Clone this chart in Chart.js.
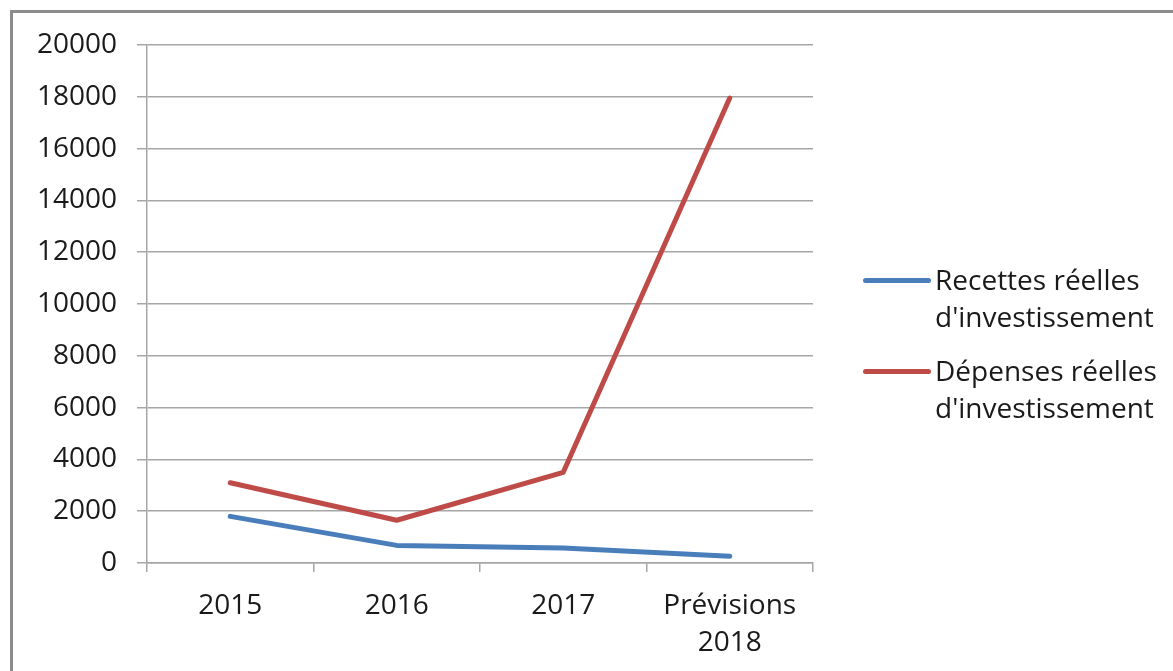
<!DOCTYPE html>
<html>
<head>
<meta charset="utf-8">
<script src="https://cdn.jsdelivr.net/npm/chart.js@4"></script>
<style>
  html, body { margin: 0; padding: 0; background: #fff; }
  #wrap { position: relative; width: 1173px; height: 671px; overflow: hidden; }
  #frame { position: absolute; left: 10px; top: 10px; width: 1200px; height: 700px;
           border-left: 3px solid #8c8c8c; border-top: 3px solid #8c8c8c; box-sizing: border-box; }
  #c { position: absolute; left: 0; top: 0; }
  .leg { position: absolute; left: 863px; font-family: "Open Sans", sans-serif; font-size: 28px;
         color: #1a1a1a; line-height: 37px; }
  .leg .sw { position: absolute; left: 0; width: 68px; height: 5px; border-radius: 3px; }
  .leg .tx { position: absolute; left: 72px; white-space: nowrap; }
</style>
</head>
<body>
<div id="wrap">
  <div id="frame"></div>
  <canvas id="c" width="1173" height="671"></canvas>
  <div class="leg" id="leg"></div>
</div>
<script>
const categories = ["2015", "2016", "2017", ["Prévisions", "2018"]];
const recettes = [1800, 680, 580, 260];
const depenses = [3100, 1650, 3500, 17950];
const seriesNames = [["Recettes réelles", "d'investissement"], ["Dépenses réelles", "d'investissement"]];
const seriesColors = ["#4a7ebb", "#be4b48"];
const yTicks = { min: 0, max: 20000, step: 2000 };

const ctx = document.getElementById('c');
new Chart(ctx, {
  type: 'line',
  data: {
    labels: categories,
    datasets: [
      { label: seriesNames[0].join(' '), data: recettes, borderColor: seriesColors[0], borderWidth: 5,
        pointRadius: 0, tension: 0, fill: false, borderCapStyle: 'round', borderJoinStyle: 'round' },
      { label: seriesNames[1].join(' '), data: depenses, borderColor: seriesColors[1], borderWidth: 5,
        pointRadius: 0, tension: 0, fill: false, borderCapStyle: 'round', borderJoinStyle: 'round' }
    ]
  },
  options: {
    responsive: false,
    animation: false,
    layout: { padding: { left: 0, top: 45, right: 360, bottom: 0 } },
    plugins: { legend: { display: false }, tooltip: { enabled: false } },
    scales: {
      y: {
        min: yTicks.min, max: yTicks.max,
        ticks: { stepSize: yTicks.step, padding: 20, color: '#1a1a1a',
                 callback: v => String(v),
                 font: { family: 'Open Sans', size: 28 } },
        grid: { color: '#a6a6a6', lineWidth: 1.5, tickLength: 10 },
        border: { color: '#a6a6a6', width: 1.5 },
        afterFit: s => { s.width = 147; }
      },
      x: {
        offset: true,
        ticks: { padding: 16, color: '#1a1a1a', maxRotation: 0, autoSkip: false,
                 font: { family: 'Open Sans', size: 28, lineHeight: 1.3 } },
        grid: { offset: true, drawOnChartArea: false, color: '#a6a6a6', lineWidth: 1.5, tickLength: 9 },
        border: { color: '#a6a6a6', width: 1.5 },
        afterFit: s => { s.height = 671 - 563; }
      }
    }
  }
});

// legend (HTML text)
const leg = document.getElementById('leg');
const legTops = [261, 352];
seriesNames.forEach((nm, i) => {
  const sw = document.createElement('div');
  sw.className = 'sw';
  sw.style.background = seriesColors[i];
  sw.style.top = (legTops[i] + 17) + 'px';
  leg.appendChild(sw);
  const tx = document.createElement('div');
  tx.className = 'tx';
  tx.style.top = legTops[i] + 'px';
  tx.innerHTML = nm.join('<br>');
  leg.appendChild(tx);
});
leg.style.top = '0px';
</script>
</body>
</html>
